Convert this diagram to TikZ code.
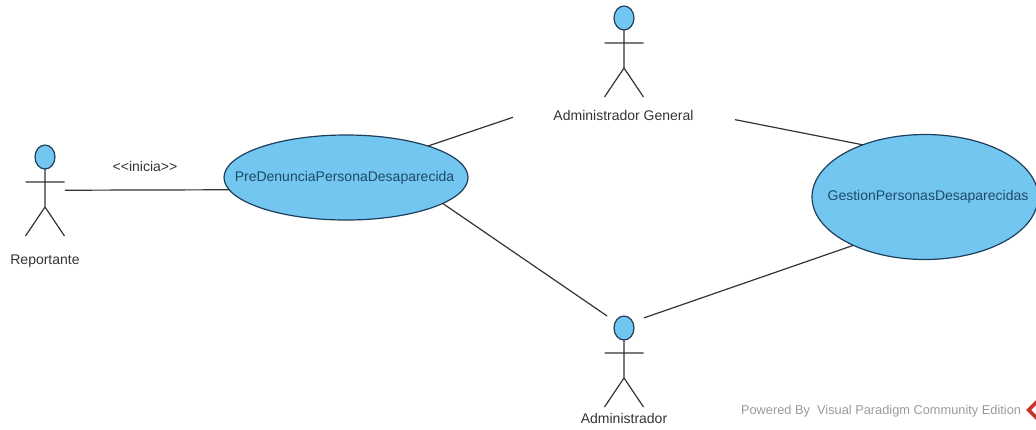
\documentclass[tikz,border=0pt]{standalone}
\usepackage{fontspec}
\setmainfont{Liberation Sans}
\usetikzlibrary{shapes.geometric}
\definecolor{ucfill}{HTML}{72C6F0}
\definecolor{ucline}{HTML}{1E3F5C}
\definecolor{uctext}{HTML}{1F4A68}
\definecolor{ink}{HTML}{333333}
\definecolor{foot}{HTML}{9A9A9A}
\definecolor{logored}{HTML}{C8322B}
\tikzset{
  usecase/.style={shape=ellipse,draw=ucline,fill=ucfill,line width=1.2pt,inner sep=0pt,outer sep=0pt,text=uctext,font=\fontsize{14}{16}\selectfont},
  actorbox/.style={shape=rectangle,inner sep=0pt,outer sep=0pt,minimum width=#1},
  actorhead/.style={shape=ellipse,draw=ucline,fill=ucfill,line width=1.2pt,inner sep=0pt,outer sep=0pt,minimum width=20pt,minimum height=24pt},
  actorlimb/.style={draw=ink,line width=1.2pt},
  lbl/.style={inner sep=0pt,outer sep=0pt,text=ink,font=\fontsize{14}{16}\selectfont},
  assoc/.style={draw=ink,line width=1.2pt},
  footer/.style={inner sep=0pt,outer sep=0pt,text=foot,font=\fontsize{12.8}{15}\selectfont}
}
\newcommand{\stickman}[3]{% name, x, head y
  \node[actorhead] (#1) at (#2,#3) {};
  \draw[actorlimb] (#1.south) -- (#2,#3+50) (#2-19.5,#3+25) -- (#2+19.5,#3+25)
     (#2-19.5,#3+79) -- (#2,#3+50) -- (#2+19.5,#3+79);
}
\begin{document}
\begin{tikzpicture}[x=1pt,y=-1pt]
\useasboundingbox (0,0) rectangle (1036,429);
% use cases
\node[usecase,minimum width=244pt,minimum height=85pt] (pre) at (346,177.5) {\makebox[0pt]{PreDenunciaPersonaDesaparecida\hspace{3pt}}};
\node[usecase,minimum width=226pt,minimum height=125pt] (ges) at (925,197) {\makebox[0pt]{\hspace{6pt}GestionPersonasDesaparecidas}};
% actors
\stickman{repH}{45}{157}
\stickman{agH}{624}{18}
\stickman{adH}{624}{328}
\node[lbl] (repL) at (45,261) {Reportante};
\node[lbl] (agL) at (623.5,115.5) {Administrador General};
\node[lbl] (adL) at (624,418) {Administrador};
\node[lbl] (ini) at (145,166) {<{}<inicia>{}>};
% invisible bounds of the actors, which the connectors stop at
\node[actorbox=40pt,minimum height=124pt] (rep) at (45,207) {};
\node[actorbox=222pt,minimum height=125pt] (ag) at (624,65.5) {};
\node[actorbox=40pt,minimum height=98pt] (ad) at (624,365) {};
% connectors
\draw[assoc] (rep.40.36) -- (pre.186);
\draw[assoc] (pre.21) -- (ag.205.7);
\draw[assoc] (ag.-26) -- (ges.140.8);
\draw[assoc] (pre.-15) -- (ad.109);
\draw[assoc] (ad.67) -- (ges.-146);
% footer
\node[footer,anchor=west] (pow) at (741,411) {Powered By\ \ Visual Paradigm Community Edition};
\fill[logored,even odd rule] (1026,410) -- (1037,399) -- (1037,421) -- cycle
  (1031,410) -- (1037,404) -- (1037,416) -- cycle;
\end{tikzpicture}
\end{document}
